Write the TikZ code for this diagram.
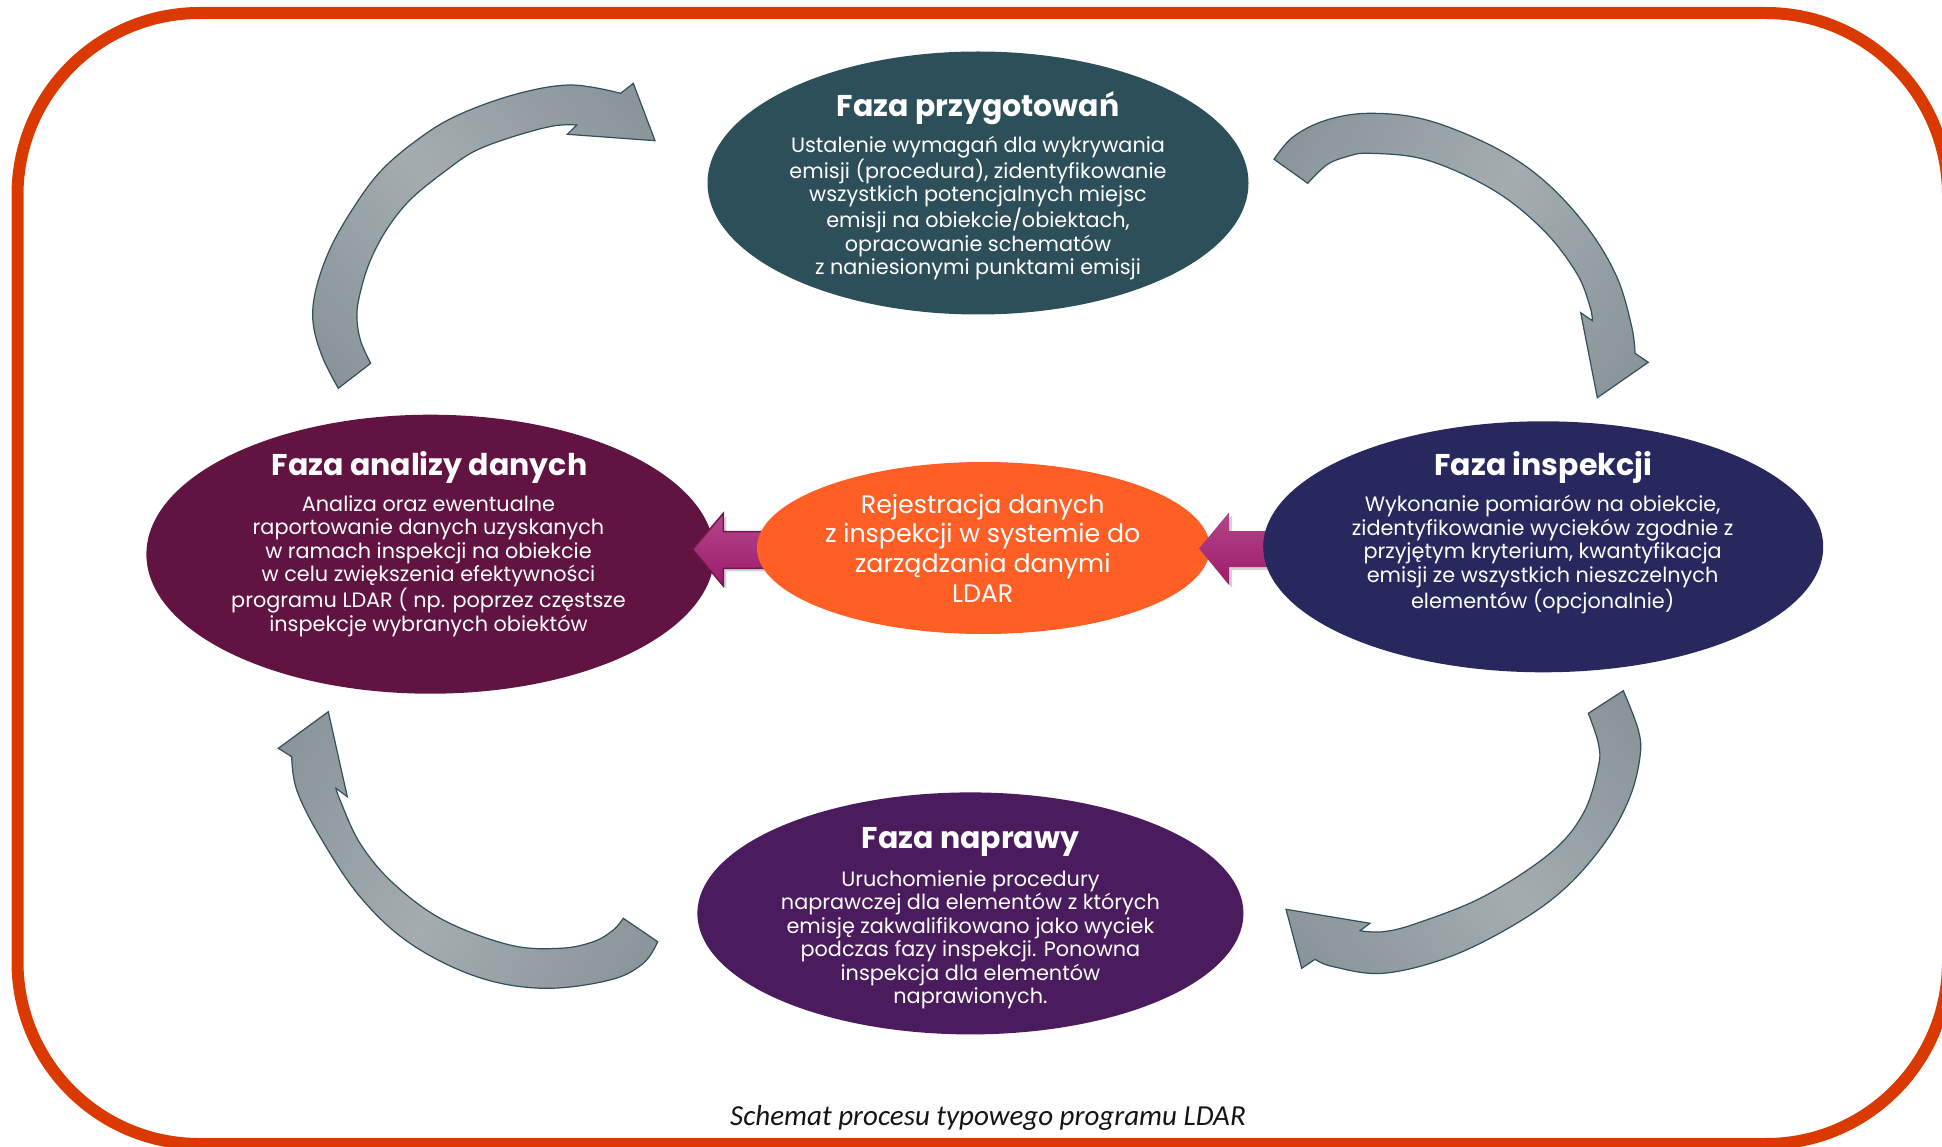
\documentclass[tikz,border=0pt]{standalone}
\usepackage{fontspec}
\setmainfont{Poppins}
\newfontfamily\capfont{Carlito}
\usetikzlibrary{shapes.geometric,shadows}

\definecolor{frameorange}{RGB}{218,58,0}
\definecolor{prepteal}{RGB}{45,79,90}
\definecolor{analmaroon}{RGB}{97,20,66}
\definecolor{inspnavy}{RGB}{38,40,94}
\definecolor{repairpurple}{RGB}{74,28,94}
\definecolor{regorange}{RGB}{255,95,36}
\definecolor{arcdark}{RGB}{122,135,141}
\definecolor{arclight}{RGB}{164,172,175}
\definecolor{arcline}{RGB}{47,80,92}
\definecolor{pushmag}{RGB}{158,27,107}
\definecolor{pushlight}{RGB}{178,70,138}
\definecolor{pushedge}{RGB}{115,22,80}
\definecolor{captext}{RGB}{20,20,20}

\pgfdeclarehorizontalshading{arcshade}{100bp}{color(0bp)=(arcdark); color(50bp)=(arclight); color(100bp)=(arcdark)}

\tikzset{
  phase/.style={ellipse, inner sep=0pt, draw=none},
  ttl/.style={text=white, font=\fontsize{30}{36}\selectfont\bfseries, inner sep=0pt, anchor=base},
  body/.style={text=white, font=\fontsize{20.8}{23.5}\selectfont, align=center, inner sep=0pt},
  regbody/.style={text=white, font=\fontsize{25.3}{29.7}\selectfont, align=center, inner sep=0pt},
  arcarrow/.style={draw=arcline, line width=1.2pt, line join=miter, shade, shading=arcshade},
  pusharrow/.style={top color=pushlight, bottom color=pushmag, line join=miter,
    drop shadow={opacity=0.35, shadow xshift=3pt, shadow yshift=-3pt}},
}

\begin{document}
\begin{tikzpicture}[x=1pt, y=-1pt]
\useasboundingbox (0,0) rectangle (1942,1147);

% outer frame
\draw[frameorange, line width=12pt, rounded corners=182pt] (17.5,13) rectangle (1948,1144);

% curved cycle arrows
\path[arcarrow, shading angle=42]
  plot[smooth, tension=0.6] coordinates {(338.3,388.3) (322,356) (313,322) (316,289) (330,249) (352,210) (379,173) (413,143) (454,117) (513,95) (570,85) (620.7,93.3)}
  -- (633.3,83.3) -- (655,140.7) -- (567.3,134.3)
  -- plot[smooth, tension=0.6] coordinates {(576.7,125) (553,126) (513,136.7) (475,151) (446.7,170) (411,199) (387,229) (369.5,262.5) (359,298) (357,320) (361,342) (370.7,363.3)}
  -- cycle;

\path[arcarrow, shading angle=-33]
  plot[smooth, tension=0.6] coordinates {(1274,159.3) (1293.3,136.7) (1326.7,120) (1370,113.3) (1426.7,120) (1493.3,146.7) (1543.3,180) (1586.7,226.7) (1616.7,276.7) (1631.7,326.7) (1635,353.3)}
  -- (1648.3,362.3) -- (1597.3,397.7) -- (1580.7,312.7)
  -- plot[smooth, tension=0.6] coordinates {(1592.3,320.7) (1590,306.7) (1576.7,273.3) (1543.3,230) (1493.3,190) (1426.7,160) (1370,153.3) (1346.7,156.7) (1326.7,165) (1307.7,183.3)}
  -- cycle;

\path[arcarrow, shading angle=38]
  plot[smooth, tension=0.6] coordinates {(1623.3,690.7) (1638.3,730) (1640,756.7) (1630,796.7) (1606.7,840) (1566.7,886.7) (1516.7,923.3) (1450,956.7) (1383.3,973.3) (1333.3,966.7) (1315,959.3)}
  -- (1301.7,968.3) -- (1286,909.3) -- (1370,923.3)
  -- plot[smooth, tension=0.6] coordinates {(1360,930.7) (1383.3,931.7) (1416.7,923.3) (1483.3,896.7) (1550,853.3) (1583.3,813.3) (1598.3,766.7) (1598.3,743.3) (1588.3,713.3)}
  -- cycle;

\path[arcarrow, shading angle=-31]
  plot[smooth, tension=0.6] coordinates {(657.7,941.7) (643.3,963.3) (610,980) (543.3,988.3) (476.7,976.7) (410,943.3) (360,896.7) (320,836.7) (296.7,790) (291.7,756.7)}
  -- (278.3,748.3) -- (328.3,711.7) -- (347.3,796.7)
  -- plot[smooth, tension=0.6] coordinates {(336,788.3) (340,800) (360,843.3) (393.3,883.3) (443.3,920) (510,945) (560,948.3) (593.3,941.7) (613.3,930) (623.3,918.3)}
  -- cycle;

% phase ellipses
\node[phase, fill=prepteal, minimum width=541pt, minimum height=263pt] (prep) at (978,183) {};
\node[phase, fill=analmaroon, minimum width=568pt, minimum height=279pt] (anal) at (430.4,554.2) {};
\node[phase, fill=repairpurple, minimum width=546pt, minimum height=242pt] (repair) at (970.4,913.4) {};

% data flow: registration -> analysis
\path[pusharrow, draw=pushedge, line width=1.5pt]
  (692.7,549.3) -- (723.3,513.3) -- (723.3,531.7) -- (768,531.7) -- (768,568.3) -- (723.3,568.3) -- (723.3,586) -- cycle;

\node[phase, fill=regorange, minimum width=453pt, minimum height=172pt] (reg) at (983.4,548) {};

% data flow: inspection -> registration
\path[pusharrow]
  (1199,548.5) -- (1229,512.5) -- (1229,531) -- (1280,531) -- (1280,567) -- (1229,567) -- (1229,585) -- cycle;

\node[phase, fill=inspnavy, minimum width=560pt, minimum height=251pt] (insp) at (1543.2,546.8) {};

% texts
\node[ttl] (prepT) at (978,117) {Faza przygotowań};
\node[body] (prepB) at (978,208) {Ustalenie wymagań dla wykrywania\\emisji (procedura), zidentyfikowanie\\wszystkich potencjalnych miejsc\\emisji na obiekcie/obiektach,\\opracowanie schematów\\z naniesionymi punktami emisji};

\node[ttl] (analT) at (429.5,475) {Faza analizy danych};
\node[body] (analB) at (428.5,566) {Analiza oraz ewentualne\\raportowanie danych uzyskanych\\w ramach inspekcji na obiekcie\\w celu zwiększenia efektywności\\programu LDAR ( np. poprzez częstsze\\inspekcje wybranych obiektów};

\node[ttl] (inspT) at (1543.2,475) {Faza inspekcji};
\node[body] (inspB) at (1542.6,554.5) {Wykonanie pomiarów na obiekcie,\\zidentyfikowanie wycieków zgodnie z\\przyjętym kryterium, kwantyfikacja\\emisji ze wszystkich nieszczelnych\\elementów (opcjonalnie)};

\node[ttl] (repairT) at (970.4,848) {Faza naprawy};
\node[body] (repairB) at (970.4,940) {Uruchomienie procedury\\naprawczej dla elementów z których\\emisję zakwalifikowano jako wyciek\\podczas fazy inspekcji. Ponowna\\inspekcja dla elementów\\naprawionych.};

\node[regbody] (regB) at (982.7,548) {Rejestracja danych\\z inspekcji w systemie do\\zarządzania danymi\\LDAR};

\node[text=captext, font=\capfont\itshape\fontsize{29}{34}\selectfont, inner sep=0pt] (caption) at (988,1118) {Schemat procesu typowego programu LDAR};
\end{tikzpicture}
\end{document}
